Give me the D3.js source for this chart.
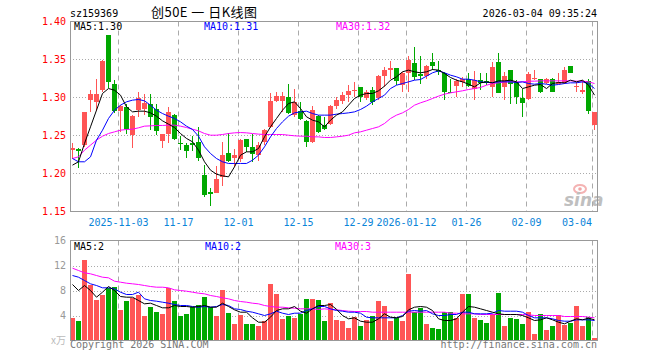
<!DOCTYPE html>
<html>
<head>
<meta charset="utf-8">
<script src="https://cdn.jsdelivr.net/npm/d3@7"></script>
<style>
  body { margin: 0; background: #fff; }
  text { font-family: "DejaVu Sans Mono", monospace; font-size: 10px; }
</style>
</head>
<body>
<div id="chart"></div>
<script>
// trading days shown on the chart
var dates = [
  "2025-10-22","2025-10-23","2025-10-24","2025-10-27","2025-10-28","2025-10-29","2025-10-30","2025-10-31",
  "2025-11-03","2025-11-04","2025-11-05","2025-11-06","2025-11-07","2025-11-10","2025-11-11","2025-11-12","2025-11-13","2025-11-14",
  "2025-11-17","2025-11-18","2025-11-19","2025-11-20","2025-11-21","2025-11-24","2025-11-25","2025-11-26","2025-11-27","2025-11-28",
  "2025-12-01","2025-12-02","2025-12-03","2025-12-04","2025-12-05","2025-12-08","2025-12-09","2025-12-10","2025-12-11","2025-12-12",
  "2025-12-15","2025-12-16","2025-12-17","2025-12-18","2025-12-19","2025-12-22","2025-12-23","2025-12-24","2025-12-25","2025-12-26",
  "2025-12-29","2025-12-30","2025-12-31",
  "2026-01-05","2026-01-06","2026-01-07","2026-01-08","2026-01-09","2026-01-12","2026-01-13","2026-01-14","2026-01-15","2026-01-16",
  "2026-01-19","2026-01-20","2026-01-21","2026-01-22","2026-01-23","2026-01-26","2026-01-27","2026-01-28","2026-01-29","2026-01-30",
  "2026-02-02","2026-02-03","2026-02-04","2026-02-05","2026-02-06","2026-02-09","2026-02-10","2026-02-11","2026-02-12","2026-02-13",
  "2026-02-24","2026-02-25","2026-02-26","2026-02-27","2026-03-02","2026-03-03","2026-03-04"
];

var opens = [1.2307,1.2316,1.2373,1.2965,1.2943,1.3105,1.3822,1.3175,1.2825,1.2877,
  1.2504,1.2833,1.2855,1.2920,1.2846,1.2430,1.2518,1.2768,1.2400,1.2380,
  1.2395,1.2417,1.1978,1.1754,1.1750,1.1956,1.2276,1.2206,1.2197,1.2452,
  1.2350,1.2241,1.2417,1.2614,1.2956,1.2956,1.3009,1.2768,1.2825,1.2689,
  1.2417,1.2754,1.2636,1.2645,1.2886,1.2956,1.3031,1.3083,1.3132,1.2996,
  1.3105,1.2987,1.3281,1.3368,1.3382,1.3162,1.3316,1.3456,1.3303,1.3281,
  1.3465,1.3360,1.3325,1.3075,1.3149,1.3206,1.3237,1.3110,1.3228,1.3219,
  1.3140,1.3469,1.3140,1.3368,1.3206,1.2987,1.2978,1.3237,1.3237,1.3193,
  1.3250,1.3184,1.3193,1.3412,1.3132,1.3075,1.3219,1.2636];
var highs = [1.2403,1.2329,1.2810,1.3096,1.3250,1.3490,1.3822,1.3230,1.2900,1.2910,
  1.2768,1.3075,1.3050,1.3040,1.2920,1.2518,1.2870,1.2780,1.2490,1.2395,
  1.2490,1.2614,1.2114,1.1803,1.2096,1.2408,1.2539,1.2320,1.2460,1.2460,
  1.2526,1.2417,1.2592,1.3053,1.3075,1.3075,1.3184,1.3118,1.2943,1.2702,
  1.2886,1.2768,1.2746,1.2900,1.3009,1.3075,1.3162,1.3206,1.3140,1.3105,
  1.3132,1.3294,1.3395,1.3478,1.3390,1.3338,1.3544,1.3658,1.3544,1.3425,
  1.3588,1.3478,1.3338,1.3250,1.3250,1.3272,1.3316,1.3351,1.3325,1.3325,
  1.3469,1.3588,1.3338,1.3368,1.3228,1.3118,1.3338,1.3368,1.3250,1.3263,
  1.3259,1.3325,1.3404,1.3412,1.3206,1.3228,1.3250,1.2811];
var lows = [1.2197,1.2066,1.2350,1.2810,1.2820,1.3070,1.3120,1.2790,1.2548,1.2526,
  1.2330,1.2746,1.2768,1.2575,1.2504,1.2330,1.2395,1.2447,1.2307,1.2206,
  1.2300,1.2171,1.1693,1.1575,1.1741,1.1842,1.2154,1.2080,1.2154,1.2285,
  1.2153,1.2167,1.2373,1.2605,1.2943,1.2811,1.2789,1.2746,1.2702,1.2351,
  1.2395,1.2535,1.2570,1.2636,1.2855,1.2921,1.2943,1.3009,1.2943,1.2965,
  1.2899,1.2965,1.3140,1.3250,1.3162,1.3075,1.3075,1.3228,1.3184,1.3250,
  1.3360,1.3294,1.2965,1.3053,1.3009,1.3140,1.3132,1.2965,1.3105,1.3162,
  1.3009,1.3053,1.2965,1.2921,1.2921,1.2746,1.2965,1.3228,1.3061,1.3175,
  1.3066,1.3175,1.3184,1.3316,1.3075,1.3040,1.2781,1.2570];
var closes = [1.2329,1.2298,1.2803,1.3044,1.3044,1.3478,1.3206,1.2820,1.2886,1.2590,
  1.2754,1.3000,1.2930,1.2746,1.2560,1.2518,1.2810,1.2460,1.2390,1.2298,
  1.2370,1.2210,1.1715,1.1724,1.1934,1.2241,1.2167,1.2241,1.2447,1.2350,
  1.2263,1.2373,1.2570,1.2952,1.3018,1.3018,1.2798,1.2943,1.2711,1.2417,
  1.2842,1.2548,1.2583,1.2886,1.2965,1.3031,1.3083,1.3105,1.3009,1.3075,
  1.2943,1.3281,1.3368,1.3382,1.3219,1.3316,1.3500,1.3272,1.3285,1.3412,
  1.3412,1.3338,1.3075,1.3061,1.3219,1.3237,1.3149,1.3228,1.3193,1.3193,
  1.3404,1.3061,1.3281,1.3184,1.3009,1.2930,1.3307,1.3263,1.3075,1.3250,
  1.3075,1.3206,1.3368,1.3316,1.3149,1.3096,1.2825,1.2811];

// price moving averages
var ma5 = [1.2110,1.2154,1.2395,1.2614,1.2833,1.3053,1.3118,1.3096,1.3031,1.2877,
  1.2811,1.2820,1.2820,1.2798,1.2754,1.2693,1.2649,1.2605,1.2526,1.2461,
  1.2417,1.2307,1.2154,1.2044,1.1991,1.1969,1.1956,1.2088,1.2241,1.2285,
  1.2285,1.2329,1.2482,1.2614,1.2724,1.2833,1.2921,1.2943,1.2855,1.2746,
  1.2702,1.2680,1.2614,1.2702,1.2768,1.2811,1.2899,1.2987,1.3031,1.3053,
  1.3053,1.3088,1.3149,1.3228,1.3272,1.3338,1.3360,1.3338,1.3325,1.3338,
  1.3368,1.3360,1.3316,1.3263,1.3228,1.3206,1.3175,1.3140,1.3193,1.3206,
  1.3193,1.3219,1.3219,1.3228,1.3206,1.3118,1.3140,1.3162,1.3171,1.3118,
  1.3184,1.3197,1.3193,1.3228,1.3206,1.3228,1.3162,1.3031];
var ma10 = [1.2197,1.2154,1.2154,1.2219,1.2439,1.2570,1.2724,1.2833,1.2899,1.2943,
  1.2965,1.2974,1.2956,1.2899,1.2833,1.2789,1.2754,1.2724,1.2680,1.2623,
  1.2579,1.2491,1.2351,1.2263,1.2197,1.2154,1.2132,1.2132,1.2132,1.2132,
  1.2175,1.2241,1.2351,1.2482,1.2592,1.2680,1.2754,1.2798,1.2811,1.2820,
  1.2789,1.2768,1.2768,1.2768,1.2781,1.2789,1.2798,1.2811,1.2842,1.2886,
  1.2943,1.2987,1.3031,1.3118,1.3162,1.3184,1.3206,1.3228,1.3237,1.3281,
  1.3325,1.3351,1.3325,1.3294,1.3272,1.3241,1.3241,1.3228,1.3206,1.3197,
  1.3197,1.3206,1.3206,1.3206,1.3197,1.3206,1.3184,1.3175,1.3184,1.3175,
  1.3162,1.3171,1.3184,1.3193,1.3193,1.3206,1.3184,1.3118];
var ma30 = [1.2197,1.2219,1.2307,1.2373,1.2439,1.2491,1.2526,1.2548,1.2570,1.2579,
  1.2583,1.2601,1.2623,1.2627,1.2632,1.2632,1.2636,1.2636,1.2623,1.2605,
  1.2583,1.2561,1.2526,1.2504,1.2504,1.2513,1.2526,1.2535,1.2539,1.2535,
  1.2526,1.2518,1.2513,1.2513,1.2513,1.2513,1.2504,1.2496,1.2491,1.2491,
  1.2482,1.2482,1.2474,1.2474,1.2482,1.2491,1.2504,1.2535,1.2548,1.2570,
  1.2592,1.2614,1.2658,1.2724,1.2768,1.2798,1.2842,1.2899,1.2930,1.2956,
  1.2987,1.3018,1.3044,1.3061,1.3075,1.3088,1.3105,1.3118,1.3132,1.3162,
  1.3184,1.3193,1.3206,1.3206,1.3206,1.3206,1.3215,1.3215,1.3219,1.3219,
  1.3219,1.3219,1.3219,1.3219,1.3215,1.3215,1.3206,1.3184];

// volume (x万) and its moving averages
var volumes = [3.57,3.2,12.96,8.9,6.56,7.36,8.43,8.64,4.96,6.4,
  6.77,7.36,4.0,5.44,4.53,4.32,8.48,6.4,3.89,4.32,
  5.33,5.76,7.04,5.33,3.89,8.16,4.48,2.72,4.16,2.72,
  2.72,2.4,3.2,9.12,7.52,3.52,4.0,3.68,4.27,6.72,
  6.72,6.56,3.2,6.08,3.36,3.09,2.08,3.84,2.4,3.36,
  3.89,6.29,5.6,3.2,3.63,3.2,10.61,4.53,5.23,2.72,
  2.08,1.92,4.64,4.64,3.68,7.41,7.41,3.57,3.36,2.88,
  4.32,7.57,2.4,3.68,3.52,2.72,4.53,1.12,4.32,1.76,
  2.4,4.16,2.56,2.88,5.6,2.4,3.84,0.48];
var vma5 = [8.96,8.0,8.8,8.0,6.93,7.73,8.64,8.0,7.04,6.93,
  6.93,6.4,5.87,5.97,5.6,5.23,5.23,5.6,5.44,5.44,
  5.33,5.44,5.6,5.33,5.33,5.97,5.44,4.91,4.53,4.53,
  3.63,2.93,2.93,3.73,4.8,5.07,5.07,5.44,4.69,4.37,
  5.07,5.6,5.6,5.76,5.0,4.0,3.47,3.63,3.09,2.93,
  2.93,3.47,4.27,3.73,3.63,3.84,4.91,5.33,5.44,5.33,
  4.8,3.47,3.2,3.2,3.47,4.53,5.44,5.33,5.07,4.8,
  4.53,4.27,4.16,4.16,4.16,4.0,3.63,3.2,3.31,3.63,
  3.31,2.93,2.67,3.09,3.47,3.31,3.57,3.31];
var vma10 = [10.4,10.13,9.6,9.07,8.8,8.43,8.43,8.27,7.73,7.36,
  7.36,7.73,6.67,6.4,6.29,6.13,5.97,5.76,5.6,5.6,
  5.44,5.33,5.44,5.33,5.44,5.76,5.6,5.07,4.96,4.69,
  4.53,4.27,4.0,4.27,4.69,4.37,4.16,4.37,4.37,4.8,
  5.07,5.44,5.44,5.07,4.8,4.69,4.53,4.53,4.37,3.73,
  3.63,3.63,3.63,3.63,3.63,4.0,4.69,4.8,4.69,4.8,
  4.27,4.0,4.0,4.16,4.16,4.53,4.53,4.27,4.27,4.27,
  4.37,4.8,4.69,4.69,4.69,4.53,4.0,3.63,3.63,3.63,
  3.47,3.2,3.09,3.09,3.31,3.31,3.31,3.2];
var vma30 = [11.57,11.2,10.83,10.67,10.4,10.13,10.03,9.49,9.33,9.17,
  9.07,8.96,8.8,8.64,8.53,8.53,8.43,8.11,8.0,7.89,
  7.73,7.57,7.47,7.2,7.04,6.83,6.67,6.4,6.24,6.13,
  5.97,5.87,5.6,5.44,5.33,5.33,5.23,5.17,5.07,5.07,
  5.07,4.96,5.07,4.96,4.91,4.8,4.69,4.64,4.64,4.64,
  4.53,4.53,4.53,4.53,4.53,4.53,4.53,4.53,4.53,4.53,
  4.53,4.53,4.53,4.37,4.37,4.27,4.27,4.27,4.16,4.16,
  4.16,4.16,4.16,4.16,4.16,4.16,4.11,4.0,4.0,4.0,
  4.0,4.0,3.84,3.84,3.84,3.84,3.73,3.63];

var tickDates = ["2025-11-03","2025-11-17","2025-12-01","2025-12-15","2025-12-29","2026-01-12","2026-01-26","2026-02-09","2026-03-04"];
var tickLabels = ["2025-11-03","11-17","12-01","12-15","12-29","2026-01-12","01-26","02-09","03-04"];
var priceTicks = [1.40, 1.35, 1.30, 1.25, 1.20, 1.15];
var volTicks = [16, 12, 8, 4];

var width = 660, height = 360;
var left = 70, right = 598;
var priceTop = 21.5, priceBottom = 211.5;
var volTop = 240.5, volBottom = 340.5;
var upColor = "#ff5555", downColor = "#00a800";

var svg = d3.select("#chart")
    .append("svg")
    .attr("width", width)
    .attr("height", height);

var x = d3.scaleBand()
    .domain(dates)
    .range([left, right]);

var y = d3.scaleLinear()
    .domain([1.15, 1.40])
    .range([priceBottom, priceTop]);

var yv = d3.scaleLinear()
    .domain([0, 16])
    .range([volBottom, volTop]);

var candles = dates.map(function(d, i) {
    return { date: d, o: opens[i], h: highs[i], l: lows[i], c: closes[i], v: volumes[i] };
});

function color(d) { return d.c >= d.o ? upColor : downColor; }
function mid(d) { return x(d) + 2.5; }

// header
svg.append("text").attr("x", 70).attr("y", 17).text("sz159369");
svg.append("text")
    .attr("x", 151).attr("y", 17)
    .attr("textLength", 106).attr("lengthAdjust", "spacing")
    .style("font-family", "'Noto Sans CJK SC', sans-serif")
    .style("font-size", "13px")
    .text("创50E 一 日K线图");
svg.append("text").attr("x", 597).attr("y", 17).attr("text-anchor", "end").text("2026-03-04 09:35:24");

// grid: horizontal dotted lines
svg.append("g")
    .selectAll("line")
    .data(priceTicks.slice(1, -1))
    .enter().append("line")
    .attr("x1", left).attr("x2", right)
    .attr("y1", function(d) { return Math.round(y(d)) + 0.5; })
    .attr("y2", function(d) { return Math.round(y(d)) + 0.5; })
    .attr("stroke", "#aaa").attr("stroke-dasharray", "1,2");

svg.append("g")
    .selectAll("line")
    .data(volTicks.slice(1))
    .enter().append("line")
    .attr("x1", left).attr("x2", right)
    .attr("y1", function(d) { return Math.round(yv(d)) + 0.5; })
    .attr("y2", function(d) { return Math.round(yv(d)) + 0.5; })
    .attr("stroke", "#aaa").attr("stroke-dasharray", "1,2");

// grid: vertical dashed lines at the date ticks
[[priceTop, priceBottom], [volTop, volBottom]].forEach(function(r) {
    svg.append("g")
        .selectAll("line")
        .data(tickDates)
        .enter().append("line")
        .attr("x1", function(d) { return x(d) + 0.5; })
        .attr("x2", function(d) { return x(d) + 0.5; })
        .attr("y1", r[0]).attr("y2", r[1])
        .attr("stroke", "#aaa").attr("stroke-dasharray", "5,4");
});

// watermark
var wm = svg.append("g").attr("opacity", 0.75);
wm.append("ellipse").attr("cx", 580).attr("cy", 189).attr("rx", 6).attr("ry", 4)
    .attr("fill", "none").attr("stroke", "#f19a9a").attr("stroke-width", 2);
wm.append("circle").attr("cx", 580).attr("cy", 189).attr("r", 1.8).attr("fill", "#e88");
wm.append("text").attr("x", 564).attr("y", 206)
    .style("font-family", "'DejaVu Sans', sans-serif")
    .style("font-size", "17px").style("font-style", "italic").style("font-weight", "bold")
    .attr("fill", "#aaa").text("sina");

// candles
var cg = svg.append("g").attr("shape-rendering", "crispEdges");
cg.selectAll("line")
    .data(candles)
    .enter().append("line")
    .attr("x1", function(d) { return mid(d.date); })
    .attr("x2", function(d) { return mid(d.date); })
    .attr("y1", function(d) { return y(d.h); })
    .attr("y2", function(d) { return y(d.l); })
    .attr("stroke", color);
cg.selectAll("rect")
    .data(candles)
    .enter().append("rect")
    .attr("x", function(d) { return x(d.date); })
    .attr("width", 5)
    .attr("y", function(d) { return y(Math.max(d.o, d.c)); })
    .attr("height", function(d) { return Math.max(1, Math.abs(y(d.o) - y(d.c))); })
    .attr("fill", color);

// volume bars
svg.append("g").attr("shape-rendering", "crispEdges")
    .selectAll("rect")
    .data(candles)
    .enter().append("rect")
    .attr("x", function(d) { return x(d.date); })
    .attr("width", 5)
    .attr("y", function(d) { return yv(d.v); })
    .attr("height", function(d) { return volBottom - yv(d.v); })
    .attr("fill", color);

// moving average lines
function maLine(values, scale, stroke) {
    var line = d3.line()
        .x(function(d, i) { return mid(dates[i]); })
        .y(function(d) { return scale(d); });
    svg.append("path")
        .datum(values)
        .attr("d", line)
        .attr("fill", "none")
        .attr("stroke", stroke)
        .attr("stroke-width", 1);
}
maLine(ma30, y, "#ff00ff");
maLine(ma10, y, "#0000ff");
maLine(ma5, y, "#000");
maLine(vma30, yv, "#ff00ff");
maLine(vma10, yv, "#0000ff");
maLine(vma5, yv, "#000");

// frames
svg.append("rect").attr("x", 70.5).attr("y", priceTop).attr("width", 527).attr("height", priceBottom - priceTop)
    .attr("fill", "none").attr("stroke", "#999");
svg.append("rect").attr("x", 70.5).attr("y", volTop).attr("width", 527).attr("height", volBottom - volTop)
    .attr("fill", "none").attr("stroke", "#999");

// price axis labels
svg.append("g")
    .selectAll("text")
    .data(priceTicks)
    .enter().append("text")
    .attr("x", 66).attr("y", function(d) { return y(d) + 3.5; })
    .attr("text-anchor", "end").attr("fill", "#f00")
    .text(function(d) { return d.toFixed(2); });

// volume axis labels
svg.append("g")
    .selectAll("text")
    .data(volTicks)
    .enter().append("text")
    .attr("x", 66).attr("y", function(d) { return yv(d) + 3.5; })
    .attr("text-anchor", "end").attr("fill", "#999")
    .text(function(d) { return d; });
svg.append("text").attr("x", 66).attr("y", volBottom + 3).attr("text-anchor", "end")
    .attr("fill", "#bbb").style("font-family", "'Noto Sans CJK SC', sans-serif").text("x万");

// date labels
svg.append("g")
    .selectAll("text")
    .data(tickDates)
    .enter().append("text")
    .attr("x", function(d, i) { return Math.min(x(d) + 0.5, right - 21); })
    .attr("y", 226)
    .attr("text-anchor", "middle").attr("fill", "#0a84d8")
    .text(function(d, i) { return tickLabels[i]; });

// legends
var last = dates.length - 1;
svg.append("text").attr("x", 74).attr("y", 30).text("MA5:" + ma5[last].toFixed(2));
svg.append("text").attr("x", 204).attr("y", 30).attr("fill", "#0000ff").text("MA10:" + ma10[last].toFixed(2));
svg.append("text").attr("x", 336).attr("y", 30).attr("fill", "#ff00ff").text("MA30:" + ma30[last].toFixed(2));
svg.append("text").attr("x", 74).attr("y", 250).text("MA5:2");
svg.append("text").attr("x", 205).attr("y", 250).attr("fill", "#0000ff").text("MA10:2");
svg.append("text").attr("x", 335).attr("y", 250).attr("fill", "#ff00ff").text("MA30:3");

// footer
svg.append("text").attr("x", 70).attr("y", 348).attr("fill", "#777").text("Copyright 2026 SINA.COM");
svg.append("text").attr("x", 597).attr("y", 348).attr("text-anchor", "end").attr("fill", "#777").text("http://finance.sina.com.cn");
</script>
</body>
</html>
